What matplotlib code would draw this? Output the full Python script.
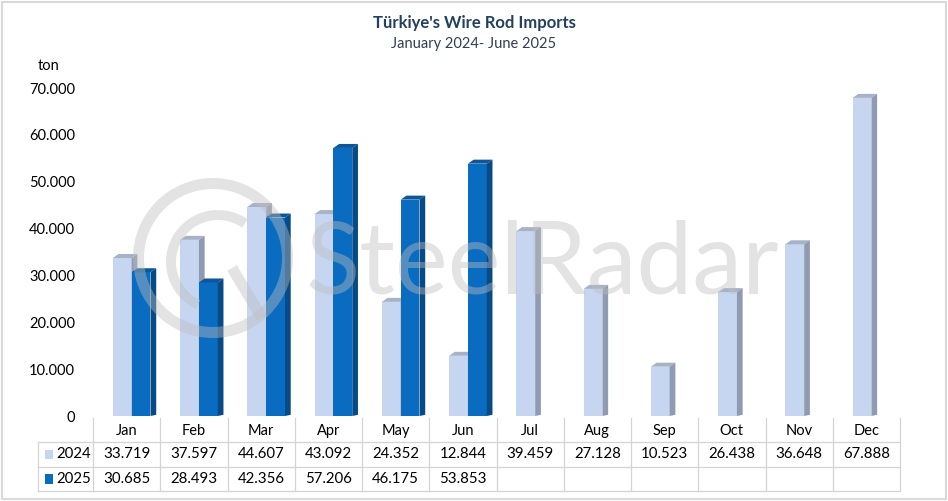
import numpy as np
import matplotlib.pyplot as plt
from matplotlib.patches import Polygon, Rectangle, Wedge
from matplotlib.lines import Line2D
from matplotlib.transforms import IdentityTransform

plt.rcParams['font.family'] = ['Lato', 'DejaVu Sans']

# data (ton)
months = ['Jan', 'Feb', 'Mar', 'Apr', 'May', 'Jun',
          'Jul', 'Aug', 'Sep', 'Oct', 'Nov', 'Dec']
imp_2024 = [33719, 37597, 44607, 43092, 24352, 12844,
            39459, 27128, 10523, 26438, 36648, 67888]
imp_2025 = [30685, 28493, 42356, 57206, 46175, 53853]
years = ['2024', '2025']

# front / top / side colours
col_2024 = ('#C6D6F0', '#A7B2C6', '#8E9BB2')
col_2025 = ('#0A6CC0', '#0D5799', '#064A86')

W, H = 948, 501
fig = plt.figure(figsize=(W / 100, H / 100), dpi=100)

# main axes: y=0 at 416px, 70.000 at 88px
ax = fig.add_axes([93 / W, 1 - 416 / H, 807 / W, (416 - 88) / H])
ax.set_xlim(-0.5, 11.5)
ax.set_ylim(0, 70000)
for s in ax.spines.values():
    s.set_visible(False)
ax.set_xticks([])
ax.set_yticks(np.arange(0, 70001, 10000))
ax.set_yticklabels([f'{v:,}'.replace(',', '.') for v in range(0, 70001, 10000)],
                   fontsize=10.5)
ax.tick_params(axis='y', length=0, pad=13)

bw = 0.28
dx = 0.085
dy = 4 * 70000 / 328


def bars3d(xs, vals, cols):
    ax.bar(xs, vals, width=bw, color=cols[0], edgecolor='none', zorder=2)
    for x, v in zip(xs, vals):
        l, r = x - bw / 2, x + bw / 2
        ax.add_patch(Polygon([(l, v), (r, v), (r + dx, v + dy), (l + dx, v + dy)],
                             closed=True, facecolor=cols[1], edgecolor='none',
                             zorder=2, clip_on=False))
        ax.add_patch(Polygon([(r, 0), (r + dx, dy * 0.3), (r + dx, v + dy), (r, v)],
                             closed=True, facecolor=cols[2], edgecolor='none',
                             zorder=2, clip_on=False))


x = np.arange(len(months))
bars3d(x - 0.065, imp_2024, col_2024)
bars3d(x[:len(imp_2025)] - 0.065 + bw, imp_2025, col_2025)

ax.text(-1.16, 74600, 'ton', fontsize=10.5, ha='center', va='center')

# data table under the chart
tax = fig.add_axes([93 / W, 1 - 491 / H, 807 / W, (491 - 418) / H])
tax.set_xlim(-0.5, 11.5)
tax.set_ylim(0, 3)
tax.axis('off')
lc = '#D4D4D4'
left = -0.5 - 55 / 67.25
for yy in [0, 1, 2]:
    tax.add_line(Line2D([left, 11.5], [yy, yy], color=lc, lw=0.9, clip_on=False))
tax.add_line(Line2D([left, left], [0, 2], color=lc, lw=0.9, clip_on=False))
for k in range(13):
    tax.add_line(Line2D([k - 0.5, k - 0.5], [0, 3], color=lc, lw=0.9, clip_on=False))

for i, m in enumerate(months):
    tax.text(i, 2.45, m, ha='center', va='center', fontsize=10.5)
rows = [imp_2024, imp_2025]
for r, (vals, yr, cols) in enumerate(zip(rows, years, [col_2024, col_2025])):
    yc = 1.5 - r
    for i, v in enumerate(vals):
        tax.text(i, yc, f'{v:,}'.replace(',', '.'), ha='center', va='center', fontsize=10.8)
    tax.add_patch(Rectangle((left + 0.1, yc - 0.2), 0.12, 0.4, facecolor=cols[0],
                            edgecolor='none', clip_on=False))
    tax.text(left + 0.27, yc, yr, ha='left', va='center', fontsize=10.8)

# titles
fig.text(0.5, 1 - 23 / H, "Türkiye's Wire Rod Imports", ha='center', va='center',
         fontsize=12, fontweight='bold', color='#23405F')
fig.text(0.5, 1 - 44 / H, 'January 2024- June 2025', ha='center', va='center',
         fontsize=10.5, color='#2F3F55')

# watermark
wm = '#BEBEBE'
fig.text(306 / W, 1 - 293 / H, 'SteelRadar', fontsize=72, fontweight='normal',
         color=wm, alpha=0.42, ha='left', va='baseline', zorder=5)
idt = IdentityTransform()
fig.patches.append(Wedge((213, H - 258), 80, 0, 360, width=11, facecolor=wm,
                         alpha=0.42, edgecolor='none', transform=idt, zorder=5))
fig.patches.append(Wedge((218, H - 262), 52, 55, 245, width=10, facecolor=wm,
                         alpha=0.42, edgecolor='none', transform=idt, zorder=5))
fig.lines.append(Line2D([232, 262], [H - 268, H - 318], color=wm, lw=8, alpha=0.42,
                        transform=idt, zorder=5, solid_capstyle='butt'))

# outer border
fig.patches.append(Rectangle((0.002, 0.003), 0.996, 0.994, transform=fig.transFigure,
                             fill=False, edgecolor='#D9D9D9', lw=1.5))

fig.savefig('out.png', dpi=100)
